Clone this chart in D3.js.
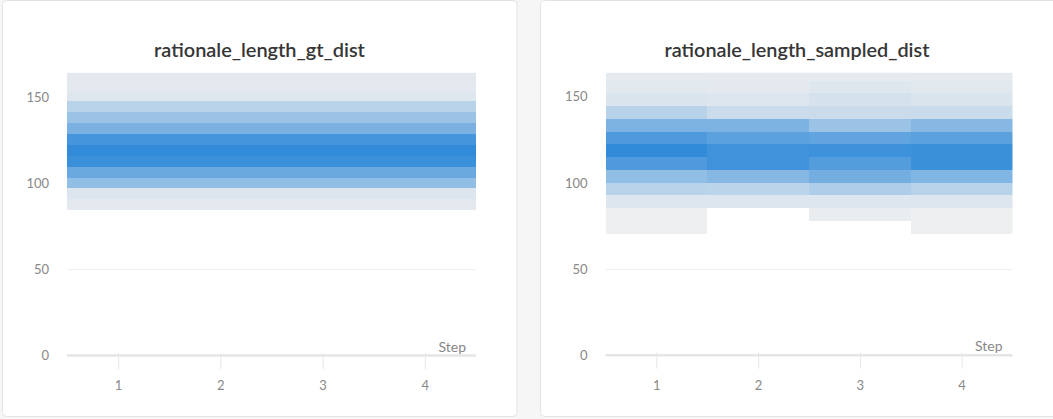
<!DOCTYPE html>
<html>
<head>
<meta charset="utf-8">
<script src="https://cdn.jsdelivr.net/npm/d3@7/dist/d3.min.js"></script>
<style>
  html, body { margin: 0; padding: 0; background: #f6f6f6; overflow: hidden; }
  svg { display: block; }
  text { font-family: "Source Sans Pro", Lato, "Open Sans", sans-serif; }
</style>
</head>
<body>
<svg id="chart" width="1053" height="419"></svg>
<script>
// ---------------- data ----------------
const steps = [1, 2, 3, 4];
const yTicks = [0, 50, 100, 150];
const titles = ["rationale_length_gt_dist", "rationale_length_sampled_dist"];
const xLabel = "Step";

// ground-truth histogram bin edges (rationale length) and per-step densities
const gtEdges = [84.3, 90.6, 96.9, 103.2, 109.5, 115.8, 122.1, 128.4, 134.7, 141.0, 147.3, 153.6, 159.9, 166.2];
const gtStep1 = [7, 10, 50, 70, 95, 100, 90, 62, 45, 30, 9, 7, 7];
const gtStep2 = [7, 10, 50, 70, 95, 100, 90, 62, 45, 30, 9, 7, 7];
const gtStep3 = [7, 10, 50, 70, 95, 100, 90, 62, 45, 30, 9, 7, 7];
const gtStep4 = [7, 10, 50, 70, 95, 100, 90, 62, 45, 30, 9, 7, 7];

// sampled histogram bin edges and per-step densities
const sampledEdges = [70.6, 78.0, 85.4, 92.8, 100.2, 107.6, 115.0, 122.4, 129.8, 137.2, 144.6, 152.0, 159.4, 166.8];
const sampledStep1 = [1, 1, 10, 30, 50, 85, 100, 85, 60, 30, 12, 8, 6];
const sampledStep2 = [0, 0, 10, 28, 55, 92, 92, 78, 60, 20, 10, 7, 5];
const sampledStep3 = [0, 3, 10, 35, 65, 82, 93, 75, 45, 20, 14, 9, 5];
const sampledStep4 = [1, 1, 10, 30, 58, 95, 95, 78, 55, 20, 12, 8, 6];

const yMax = 164;
const maxCount = 100;

// ---------------- layout ----------------
const svg = d3.select("#chart");
const panels = [
  { px: 2.5, pw: 514.5, tx: 259.5, tw: 211, left: 67, right: 476, top: 72.7, bottom: 355.5,
    title: titles[0], edges: gtEdges, values: [gtStep1, gtStep2, gtStep3, gtStep4] },
  { px: 540.5, pw: 520, tx: 797, tw: 265, left: 605.5, right: 1012.5, top: 72.7, bottom: 355.2,
    title: titles[1], edges: sampledEdges, values: [sampledStep1, sampledStep2, sampledStep3, sampledStep4] }
];

const color = d3.scaleLinear().domain([0, maxCount]).range(["#f0f0f0", "#318bd9"]).interpolate(d3.interpolateRgb);
const defs = svg.append("defs");

panels.forEach((p, i) => {
  // card
  svg.append("rect")
    .attr("x", p.px).attr("y", 0.5).attr("width", p.pw).attr("height", 416)
    .attr("rx", 4).attr("ry", 4)
    .attr("fill", "#ffffff").attr("stroke", "#e3e3e3").attr("stroke-width", 1);

  const g = svg.append("g");
  const x = d3.scaleLinear().domain([0.5, 4.5]).range([p.left, p.right]);
  const y = d3.scaleLinear().domain([0, yMax]).range([p.bottom, p.top]);

  // title
  const t = g.append("text")
    .attr("x", p.tx).attr("y", 57)
    .attr("text-anchor", "middle")
    .attr("fill", "#363636")
    .attr("font-family", '"Open Sans", "Noto Sans", sans-serif')
    .attr("font-weight", 600)
    .attr("font-size", 15)
    .text(p.title);
  const w = t.node().getComputedTextLength();
  t.attr("font-size", 15 * p.tw / w);

  // gridlines
  g.append("g").selectAll("line").data(yTicks.filter(d => d > 0)).join("line")
    .attr("x1", p.left).attr("x2", p.right)
    .attr("y1", d => Math.round(y(d)) + 0.5).attr("y2", d => Math.round(y(d)) + 0.5)
    .attr("stroke", "#efefef").attr("stroke-width", 1);

  // heatmap cells
  const clipId = "clip" + i;
  defs.append("clipPath").attr("id", clipId)
    .append("rect").attr("x", p.left).attr("y", p.top)
    .attr("width", p.right - p.left).attr("height", p.bottom - p.top);

  const cells = [];
  steps.forEach((s, si) => {
    p.values[si].forEach((v, bi) => {
      if (v > 0) cells.push({ step: s, lo: p.edges[bi], hi: p.edges[bi + 1], v });
    });
  });
  g.append("g").attr("clip-path", `url(#${clipId})`)
    .selectAll("rect").data(cells).join("rect")
    .attr("x", d => x(d.step - 0.5))
    .attr("width", d => x(d.step + 0.5) - x(d.step - 0.5))
    .attr("y", d => y(d.hi))
    .attr("height", d => y(d.lo) - y(d.hi))
    .attr("fill", d => color(d.v))
    .attr("shape-rendering", "crispEdges");

  // x axis
  const xAxis = d3.axisBottom(x).tickValues(steps).tickSize(16).tickPadding(12).tickFormat(d3.format("d"));
  const xg = g.append("g").attr("transform", `translate(0,${p.bottom - 2.5})`).call(xAxis);
  xg.select(".domain").remove();
  xg.selectAll(".tick line").attr("stroke", "#e6e6e6");
  xg.selectAll(".tick text").attr("fill", "#888888").attr("font-size", 13)
    .attr("font-family", '"Source Sans Pro", Lato, "Open Sans", sans-serif');
  g.append("line")
    .attr("x1", p.left).attr("x2", p.right)
    .attr("y1", p.bottom).attr("y2", p.bottom)
    .attr("stroke", "#e5e5e5").attr("stroke-width", 2.5);

  // x label
  g.append("text")
    .attr("x", p.right - 10).attr("y", p.bottom - 4)
    .attr("text-anchor", "end").attr("fill", "#888888").attr("font-size", 14)
    .text(xLabel);

  // y axis
  const yAxis = d3.axisLeft(y).tickValues(yTicks).tickSize(0).tickPadding(18).tickFormat(d3.format("d"));
  const yg = g.append("g").attr("transform", `translate(${p.left},0)`).call(yAxis);
  yg.select(".domain").remove();
  yg.selectAll(".tick text").attr("fill", "#888888").attr("font-size", 13)
    .attr("font-family", '"Source Sans Pro", Lato, "Open Sans", sans-serif');
});
</script>
</body>
</html>
